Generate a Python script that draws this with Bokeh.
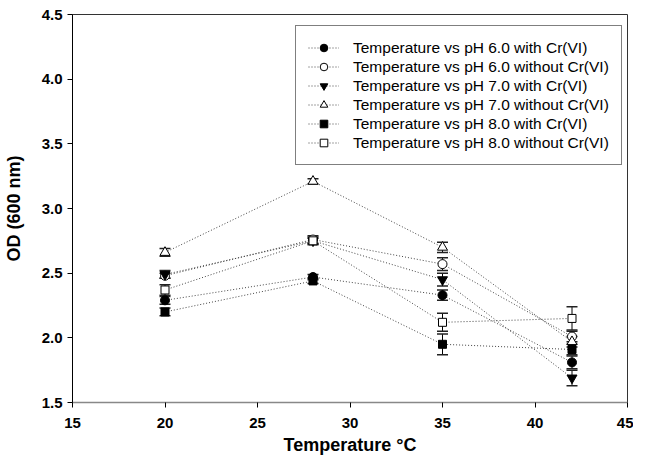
from bokeh.plotting import figure
from bokeh.models import (ColumnDataSource, Whisker, TeeHead, Legend, LegendItem,
                          FixedTicker, PrintfTickFormatter, Range1d)
from bokeh.embed import file_html
from bokeh.resources import INLINE

# ---- data ----
temperatures = [20, 28, 35, 42]
series_labels = [
    "Temperature vs pH 6.0 with Cr(VI)",
    "Temperature vs pH 6.0 without Cr(VI)",
    "Temperature vs pH 7.0 with Cr(VI)",
    "Temperature vs pH 7.0 without Cr(VI)",
    "Temperature vs pH 8.0 with Cr(VI)",
    "Temperature vs pH 8.0 without Cr(VI)",
]
ph6_with = [2.29, 2.47, 2.33, 1.81]
ph6_without = [2.48, 2.76, 2.57, 2.01]
ph7_with = [2.49, 2.75, 2.45, 1.69]
ph7_without = [2.66, 3.21, 2.70, 1.97]
ph8_with = [2.20, 2.44, 1.95, 1.91]
ph8_without = [2.37, 2.75, 2.12, 2.15]

ph6_with_err = [0.03, 0.02, 0.04, 0.05]
ph6_without_err = [0.02, 0.03, 0.05, 0.04]
ph7_with_err = [0.03, 0.02, 0.05, 0.06]
ph7_without_err = [0.03, 0.02, 0.04, 0.04]
ph8_with_err = [0.03, 0.02, 0.08, 0.04]
ph8_without_err = [0.04, 0.03, 0.07, 0.09]

x_ticks = [15, 20, 25, 30, 35, 40, 45]
y_ticks = [1.5, 2.0, 2.5, 3.0, 3.5, 4.0, 4.5]

values = [ph6_with, ph6_without, ph7_with, ph7_without, ph8_with, ph8_without]
errors = [ph6_with_err, ph6_without_err, ph7_with_err, ph7_without_err,
          ph8_with_err, ph8_without_err]

# ---- styles ----
markers = ["circle", "circle", "inverted_triangle", "triangle", "square", "square"]
fills = ["black", "white", "black", "white", "black", "white"]
sizes = [9, 9, 10, 10, 8, 8]

FONT = "Liberation Sans"

p = figure(frame_width=555, frame_height=388,
           x_range=Range1d(15, 45), y_range=Range1d(1.5, 4.5),
           output_backend="svg", toolbar_location=None,
           min_border_left=71, min_border_right=6,
           min_border_top=14, min_border_bottom=57)

p.grid.visible = False
p.outline_line_color = "#333333"
p.outline_line_width = 1

items = []
line_rs = []
for vals in values:
    line_rs.append(p.line(temperatures, vals, line_color="#444444", line_width=1,
                          line_dash="1 2"))

for vals, errs in zip(values, errors):
    src = ColumnDataSource(dict(x=temperatures,
                                upper=[v + e for v, e in zip(vals, errs)],
                                lower=[v - e for v, e in zip(vals, errs)]))
    w = Whisker(source=src, base="x", upper="upper", lower="lower",
                line_color="black", line_width=1,
                upper_head=TeeHead(size=11, line_color="#222222", line_width=1.5),
                lower_head=TeeHead(size=11, line_color="#222222", line_width=1.5))
    p.add_layout(w)

for i, vals in enumerate(values):
    sr = p.scatter(temperatures, vals, marker=markers[i], size=sizes[i],
                   fill_color=fills[i], line_color="black", line_width=1)
    items.append(LegendItem(label=series_labels[i], renderers=[line_rs[i], sr]))

legend = Legend(items=items, location=(223, 237),
                label_text_font=FONT, label_text_font_size="15.5px",
                label_text_color="black",
                glyph_width=31, glyph_height=19, label_height=19,
                label_standoff=14, spacing=0, padding=12, margin=0,
                border_line_color="black", border_line_width=1,
                background_fill_color="white", background_fill_alpha=1)
p.add_layout(legend, "center")

# axes
p.xaxis.ticker = FixedTicker(ticks=x_ticks)
p.yaxis.ticker = FixedTicker(ticks=y_ticks)
p.yaxis.formatter = PrintfTickFormatter(format="%.1f")
for ax in (p.xaxis[0], p.yaxis[0]):
    ax.major_label_text_font = FONT
    ax.major_label_text_font_size = "15px"
    ax.major_label_text_font_style = "bold"
    ax.major_label_text_color = "black"
    ax.axis_label_text_font = FONT
    ax.axis_label_text_font_size = "18px"
    ax.axis_label_text_font_style = "bold"
    ax.axis_label_text_color = "black"
    ax.major_tick_in = 0
    ax.major_tick_out = 5
    ax.minor_tick_in = 0
    ax.minor_tick_out = 0
    ax.major_tick_line_color = "black"

p.xaxis.axis_label = "Temperature °C"
p.yaxis.axis_label = "OD (600 nm)"
p.xaxis.axis_line_color = "#888888"
p.xaxis.axis_line_width = 1.5
p.yaxis.axis_line_color = "black"
p.xaxis.major_label_standoff = 10
p.yaxis.major_label_standoff = 5
p.xaxis.axis_label_standoff = 4
p.yaxis.axis_label_standoff = 15

open("out.html", "w").write(file_html(p, INLINE))
